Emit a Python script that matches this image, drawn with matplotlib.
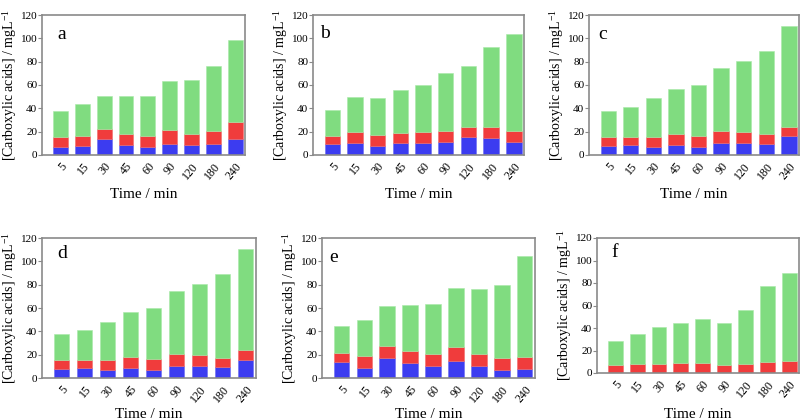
import matplotlib
matplotlib.use("Agg")
import matplotlib.pyplot as plt
import numpy as np

plt.rcParams['font.family'] = ['Liberation Serif', 'DejaVu Serif']
plt.rcParams['mathtext.fontset'] = 'stix'

times = ['5', '15', '30', '45', '60', '90', '120', '180', '240']

a_blue = [7.1, 7.7, 13.7, 8.5, 7.1, 9.4, 8.5, 9.7, 13.7]
a_red = [8.3, 8.5, 8.5, 9.5, 9.1, 12.0, 9.7, 10.8, 14.5]
a_green = [22.2, 27.1, 28.5, 32.2, 34.8, 42.2, 45.9, 56.2, 70.7]

b_blue = [9.4, 10.5, 8.0, 10.0, 10.5, 11.1, 15.4, 14.5, 11.4]
b_red = [7.1, 9.2, 8.8, 9.1, 9.2, 9.4, 8.8, 9.2, 9.1]
b_green = [22.3, 29.9, 31.7, 36.5, 40.2, 49.9, 52.5, 68.9, 83.5]

c_blue = [7.7, 8.5, 6.8, 8.5, 6.8, 10.5, 10.3, 9.4, 16.0]
c_red = [8.0, 7.2, 8.6, 9.5, 9.4, 9.7, 9.4, 8.3, 8.2]
c_green = [21.9, 25.6, 33.1, 38.4, 43.9, 54.5, 61.3, 71.2, 86.7]

d_blue = [7.5, 8.3, 6.9, 8.5, 6.6, 10.4, 10.0, 9.2, 15.8]
d_red = [7.8, 7.3, 8.2, 9.4, 9.6, 9.8, 9.5, 8.3, 8.4]
d_green = [22.0, 25.8, 33.2, 38.3, 43.8, 54.5, 61.1, 71.3, 86.3]

e_blue = [13.8, 8.6, 17.5, 12.9, 10.6, 14.6, 10.6, 7.2, 8.0]
e_red = [8.0, 10.1, 10.3, 10.1, 10.1, 11.8, 9.8, 10.3, 9.8]
e_green = [23.0, 30.7, 33.9, 39.3, 42.5, 50.5, 56.3, 62.3, 87.0]

f_blue = [0, 0, 0, 0, 0, 0, 0, 0, 0]
f_red = [6.8, 8.0, 8.3, 9.1, 8.5, 7.4, 8.0, 9.7, 10.3]
f_green = [21.5, 26.5, 32.4, 35.4, 39.8, 36.8, 48.0, 67.5, 78.4]

panels = [
    ('a', a_blue, a_red, a_green),
    ('b', b_blue, b_red, b_green),
    ('c', c_blue, c_red, c_green),
    ('d', d_blue, d_red, d_green),
    ('e', e_blue, e_red, e_green),
    ('f', f_blue, f_red, f_green),
]

W, H = 803, 420
# axes extents in pixels: left, right, top, bottom
boxes = [
    (42, 245, 15, 155),
    (313, 524, 15, 155),
    (589, 799, 15, 155),
    (42, 256, 238, 378),
    (322, 535, 238, 378),
    (597, 799, 238, 373),
]
xlabel_pads = [4, 4, 4, 2, 2, 6]
letter_pos = [(0.075, 0.86), (0.035, 0.87), (0.045, 0.86),
              (0.07, 0.89), (0.035, 0.86), (0.07, 0.89)]

BLUE = '#3c3cf0'
RED = '#f03c3c'
GREEN = '#80dc80'
SPINE = '#8a8a8a'

fig = plt.figure(figsize=(W / 100, H / 100), dpi=100)

for (letter, blue, red, green), (l, r, t, b), xpad, (lx, ly) in zip(panels, boxes, xlabel_pads, letter_pos):
    ax = fig.add_axes([l / W, 1 - b / H, (r - l) / W, (b - t) / H])
    x = np.arange(len(times))
    blue = np.array(blue)
    red = np.array(red)
    green = np.array(green)
    w = 0.68
    ax.bar(x, blue, w, color=BLUE, edgecolor='#6a6af0', linewidth=0.4)
    ax.bar(x, red, w, bottom=blue, color=RED, edgecolor='#f06a6a', linewidth=0.4)
    ax.bar(x, green, w, bottom=blue + red, color=GREEN, edgecolor='#a8e8a8', linewidth=0.4)
    ax.set_xlim(-0.85, len(times) - 0.55)
    ax.set_ylim(0, 120)
    ax.set_yticks(np.arange(0, 121, 20))
    ax.set_xticks(x)
    ax.set_xticklabels(times, rotation=50, ha='right', rotation_mode='anchor', fontsize=8.5)
    ax.tick_params(axis='x', length=0, pad=4)
    ax.tick_params(axis='y', direction='out', length=3, width=0.8, color=SPINE, labelsize=8, pad=0.5)
    for s in ax.spines.values():
        s.set_color(SPINE)
        s.set_linewidth(1.2)
    ax.set_ylabel(r'[Carboxylic acids] / mgL$^{\mathregular{-1}}$', fontsize=10, labelpad=1)
    ax.set_xlabel('Time / min', fontsize=11, labelpad=xpad)
    ax.text(lx, ly, letter, transform=ax.transAxes, fontsize=14, ha='left', va='center')

fig.savefig('out.png', dpi=100)
